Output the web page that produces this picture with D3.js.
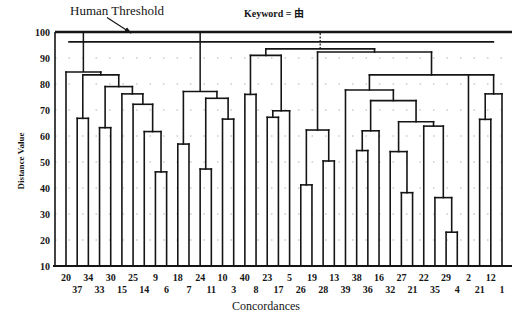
<!DOCTYPE html>
<html>
<head>
<meta charset="utf-8">
<script src="https://cdn.jsdelivr.net/npm/d3@7"></script>
<style>
  body { margin: 0; background: #fff; }
  svg { display: block; }
</style>
</head>
<body>
<div id="chart"></div>
<script>
// leaf order along the x axis (top row = even index, bottom row = odd index)
var leaves = ["20","37","34","33","30","15","25","14","9","6",
              "18","7","24","11","10","3","40","8","23","17",
              "5","26","19","28","13","39","38","36","16","32",
              "27","21","22","35","29","4","2","21","12","1"];

// merges: [id, children (leaf index or merge id), distance value]
var merges = [
  ["a1", [1, 2], 66.8],
  ["a2", [3, 4], 63.2],
  ["a3", [8, 9], 46.2],
  ["a4", [7, "a3"], 61.7],
  ["a5", [6, "a4"], 72.2],
  ["a6", [5, "a5"], 76.2],
  ["a7", ["a2", "a6"], 79.0],
  ["a8", ["a1", "a7"], 83.5],
  ["A",  [0, "a8"], 84.6],
  ["b1", [10, 11], 56.9],
  ["b2", [12, 13], 47.3],
  ["b3", [14, 15], 66.5],
  ["b4", ["b2", "b3"], 74.5],
  ["B",  ["b1", "b4"], 77.1],
  ["c1", [16, 17], 76.0],
  ["c2", [18, 19], 67.2],
  ["c3", ["c2", 20], 69.7],
  ["C",  ["c1", "c3"], 91.0],
  ["g1", [21, 22], 41.2],
  ["g2", [23, 24], 50.4],
  ["G",  ["g1", "g2"], 62.3],
  ["e1", [26, 27], 54.4],
  ["e2", ["e1", 28], 62.0],
  ["e3", [30, 31], 38.2],
  ["e4", [29, "e3"], 54.0],
  ["e5", [34, 35], 23.0],
  ["e6", [33, "e5"], 36.3],
  ["e7", [32, "e6"], 63.8],
  ["e8", ["e4", "e7"], 65.5],
  ["e9", ["e2", "e8"], 73.6],
  ["E",  [25, "e9"], 77.7],
  ["f1", [37, 38], 66.4],
  ["F",  ["f1", 39], 76.2],
  ["EF", ["E", 36, "F"], 83.5],
  ["D",  ["G", "EF"], 92.3],
  ["CD", ["C", "D"], 93.5]
];

var yTicks = [10, 20, 30, 40, 50, 60, 70, 80, 90, 100];
var gridValues = [20, 30, 40, 50, 60, 70, 80, 90];
var humanThreshold = 100;
// second horizontal line: [value, from leaf index, to leaf index]
var upperLine = [96.2, 0.2, 38.3];
// clusters whose stem runs up to the threshold line
var thresholdStems = [["A", "solid"], ["B", "solid"], ["CD", "dotted"]];

var W = 512, H = 314;
var margin = {left: 55, right: 512, top: 32, bottom: 266};

var svg = d3.select("#chart")
  .append("svg")
    .attr("width", W)
    .attr("height", H);

var x = d3.scaleLinear()
    .domain([0, leaves.length - 1])
    .range([66, 502]);

var y = d3.scaleLinear()
    .domain([10, 100])
    .range([margin.bottom, margin.top]);

var ink = "#151515";
var serif = "'Liberation Serif', 'DejaVu Serif', serif";

// dotted grid
svg.append("g")
  .selectAll("line")
  .data(gridValues)
  .enter()
  .append("line")
    .attr("x1", margin.left)
    .attr("x2", margin.right)
    .attr("y1", function(d) { return y(d); })
    .attr("y2", function(d) { return y(d); })
    .attr("stroke", "#b0b0b0")
    .attr("stroke-width", 1)
    .attr("stroke-dasharray", "1.5,12");

// compute node positions
var nodes = {};
leaves.forEach(function(d, i) {
  nodes[i] = {x: x(i), h: 10};
});
var links = [];
merges.forEach(function(m) {
  var kids = m[1].map(function(c) { return nodes[c]; });
  var x0 = kids[0].x, x1 = kids[kids.length - 1].x;
  nodes[m[0]] = {x: (x0 + x1) / 2, h: m[2]};
  links.push({x1: x0, y1: m[2], x2: x1, y2: m[2]});
  kids.forEach(function(k) {
    links.push({x1: k.x, y1: k.h, x2: k.x, y2: m[2]});
  });
});

var tree = svg.append("g");
tree.selectAll("line")
  .data(links)
  .enter()
  .append("line")
    .attr("x1", function(d) { return d.x1; })
    .attr("x2", function(d) { return d.x2; })
    .attr("y1", function(d) { return y(d.y1); })
    .attr("y2", function(d) { return y(d.y2); })
    .attr("stroke", ink)
    .attr("stroke-width", 1.6)
    .attr("stroke-linecap", "square");

// stems up to the threshold
svg.append("g")
  .selectAll("line")
  .data(thresholdStems)
  .enter()
  .append("line")
    .attr("x1", function(d) { return nodes[d[0]].x; })
    .attr("x2", function(d) { return nodes[d[0]].x; })
    .attr("y1", function(d) { return y(nodes[d[0]].h); })
    .attr("y2", y(humanThreshold))
    .attr("stroke", ink)
    .attr("stroke-width", function(d) { return d[1] === "dotted" ? 1.2 : 1.5; })
    .attr("stroke-dasharray", function(d) { return d[1] === "dotted" ? "2,1.5" : null; });

// second line
svg.append("line")
  .attr("x1", x(upperLine[1]))
  .attr("x2", x(upperLine[2]))
  .attr("y1", y(upperLine[0]))
  .attr("y2", y(upperLine[0]))
  .attr("stroke", ink)
  .attr("stroke-width", 1.8);

// threshold line
svg.append("line")
  .attr("x1", margin.left)
  .attr("x2", margin.right)
  .attr("y1", y(humanThreshold))
  .attr("y2", y(humanThreshold))
  .attr("stroke", ink)
  .attr("stroke-width", 2.6);

// axes lines
svg.append("line")
  .attr("x1", margin.left).attr("x2", margin.left)
  .attr("y1", y(100)).attr("y2", y(10))
  .attr("stroke", ink)
  .attr("stroke-width", 1.6);
svg.append("line")
  .attr("x1", margin.left - 2).attr("x2", margin.right)
  .attr("y1", y(10)).attr("y2", y(10))
  .attr("stroke", ink)
  .attr("stroke-width", 2);

// y tick labels
svg.append("g")
  .selectAll("text")
  .data(yTicks)
  .enter()
  .append("text")
    .attr("x", margin.left - 5)
    .attr("y", function(d) { return y(d) + 3.5; })
    .attr("text-anchor", "end")
    .attr("font-family", serif)
    .attr("font-weight", "bold")
    .attr("font-size", 10)
    .attr("fill", ink)
    .text(function(d) { return d; });

// x labels, alternating rows
svg.append("g")
  .selectAll("text")
  .data(leaves)
  .enter()
  .append("text")
    .attr("x", function(d, i) { return x(i); })
    .attr("y", function(d, i) { return i % 2 === 0 ? 281 : 293; })
    .attr("text-anchor", "middle")
    .attr("font-family", serif)
    .attr("font-weight", "bold")
    .attr("font-size", 10)
    .attr("fill", ink)
    .text(function(d) { return d; });

// axis titles
svg.append("text")
  .attr("x", 266)
  .attr("y", 310)
  .attr("text-anchor", "middle")
  .attr("font-family", serif)
  .attr("font-size", 12)
  .attr("fill", ink)
  .text("Concordances");

svg.append("text")
  .attr("transform", "translate(24,161) rotate(-90)")
  .attr("text-anchor", "middle")
  .attr("font-family", serif)
  .attr("font-weight", "bold")
  .attr("font-size", 9)
  .attr("fill", ink)
  .text("Distance Value");

// title
svg.append("text")
  .attr("x", 274)
  .attr("y", 17)
  .attr("text-anchor", "middle")
  .attr("font-family", serif + ", 'Noto Sans CJK SC'")
  .attr("font-weight", "bold")
  .attr("font-size", 10)
  .attr("fill", ink)
  .text("Keyword = 由");

// Human Threshold annotation
svg.append("defs").append("marker")
  .attr("id", "arrow")
  .attr("viewBox", "0 0 10 10")
  .attr("refX", 9).attr("refY", 5)
  .attr("markerWidth", 6).attr("markerHeight", 6)
  .attr("orient", "auto")
  .append("path")
    .attr("d", "M0,1.5L10,5L0,8.5Z")
    .attr("fill", ink);

svg.append("text")
  .attr("x", 117)
  .attr("y", 15)
  .attr("text-anchor", "middle")
  .attr("font-family", serif)
  .attr("font-size", 13)
  .attr("fill", ink)
  .text("Human Threshold");

svg.append("line")
  .attr("x1", 107).attr("y1", 17.5)
  .attr("x2", 131).attr("y2", y(humanThreshold) + 1)
  .attr("stroke", ink)
  .attr("stroke-width", 1.2)
  .attr("marker-end", "url(#arrow)");
</script>
</body>
</html>
